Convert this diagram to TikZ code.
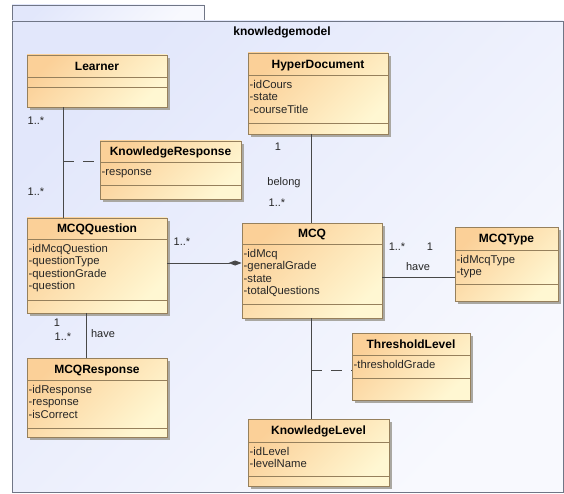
\documentclass[tikz,border=0pt]{standalone}
\definecolor{pkgblue}{RGB}{226, 231, 251}
\definecolor{pkgwhite}{RGB}{248, 249, 254}
\definecolor{pkgline}{RGB}{112, 118, 134}
\definecolor{classorange}{RGB}{251, 208, 152}
\definecolor{classyellow}{RGB}{255, 247, 210}
\definecolor{classline}{RGB}{150, 128, 92}
\definecolor{shadowgray}{RGB}{170, 168, 162}
\definecolor{assocgray}{RGB}{72, 72, 72}
\usepackage{fontspec}
\setmainfont{Liberation Sans}
\usepackage{tikz}
\usetikzlibrary{arrows.meta, calc}

\newcommand{\umlclass}[9]{%
  \fill[shadowgray] (#2+3,#3+3) rectangle (#4+3,#5+3);
  \node[classbox, minimum width={#4-#2}, minimum height={#5-#3}] (#1) at ({(#2+#4)/2},{(#3+#5)/2}) {};
  \draw[classsep] (#2,#6) -- (#4,#6) (#2,#7) -- (#4,#7);
  \node[classtitle] (#1-title) at ({(#2+#4)/2},{(#3+#6)/2}) {#8};
  \node[classattr] (#1-attrs) at (#2+1.5,#6+4) {\strut#9};
}

\begin{document}
\begin{tikzpicture}[x=1pt, y=-1pt,
    pkgbox/.style={draw=pkgline, line width=0.9pt, top color=pkgblue, bottom color=pkgwhite, shading angle=45, inner sep=0pt},
    classbox/.style={draw=classline, line width=0.8pt, top color=classorange, bottom color=classyellow, shading angle=45, inner sep=0pt},
    classsep/.style={draw=classline, line width=0.8pt},
    classtitle/.style={font=\bfseries\fontsize{12}{14}\selectfont, inner sep=0pt, text height=8.5pt, text depth=0pt},
    classattr/.style={font=\fontsize{11.3}{12.6}\selectfont, text=black!85, align=left, anchor=north west, inner sep=0pt},
    assoc/.style={draw=assocgray, line width=0.8pt},
    assocdash/.style={assoc, dash pattern=on 11pt off 9pt},
    assoclabel/.style={font=\fontsize{11}{13}\selectfont, text=black!85, inner sep=0pt, text height=7.5pt, text depth=0pt}]
  \useasboundingbox (0,0) rectangle (564,494);

  % The package
  \node[pkgbox, minimum width=192, minimum height=16] (pkgtab) at (108,13) {};
  \node[pkgbox, minimum width=551, minimum height=471] (knowledgemodel) at (287.5,256.5) {};
  \node[font=\bfseries\fontsize{12}{14}\selectfont, inner sep=0pt] (pkgtitle) at (282,32) {knowledgemodel};

  % Classes
  \umlclass{learner}{27}{55}{167}{107}{77}{87}{Learner}{}
  \umlclass{hyperdocument}{248}{53}{388}{134}{75}{123}{HyperDocument}{-idCours\\-state\\-courseTitle}
  \umlclass{knowledgeresponse}{100}{141}{241}{199}{162}{185}{KnowledgeResponse}{-response}
  \umlclass{mcqquestion}{27}{218}{167}{313}{239}{300}{MCQQuestion}{-idMcqQuestion\\-questionType\\-questionGrade\\-question}
  \umlclass{mcq}{242}{223}{382}{318}{244}{304}{MCQ}{-idMcq\\-generalGrade\\-state\\-totalQuestions}
  \umlclass{mcqtype}{455}{227}{558}{301}{250}{284}{MCQType}{-idMcqType\\-type}
  \umlclass{mcqresponse}{27}{358}{167}{437}{380}{428}{MCQResponse}{-idResponse\\-response\\-isCorrect}
  \umlclass{thresholdlevel}{352}{333}{470}{400}{355}{378}{ThresholdLevel}{-thresholdGrade}
  \umlclass{knowledgelevel}{248}{419}{389}{486}{442}{476}{KnowledgeLevel}{-idLevel\\-levelName}

  % Learner -- MCQQuestion, with KnowledgeResponse
  \coordinate (krlink) at (63,161);
  \draw[assoc] (learner.south -| krlink) -- (mcqquestion.north -| krlink);
  \draw[assocdash] (krlink) -- (knowledgeresponse.west |- krlink);
  \node[assoclabel] (learnermult) at (36,121) {1..*};
  \node[assoclabel] (questionmult) at (36,192) {1..*};

  % HyperDocument -- MCQ
  \coordinate (belonglink) at (311,0);
  \draw[assoc] (hyperdocument.south -| belonglink) -- (mcq.north -| belonglink);
  \node[assoclabel] (hypermult) at (278,147) {1};
  \node[assoclabel] (belonglabel) at (284,182) {belong};
  \node[assoclabel] (mcqmult) at (277,203) {1..*};

  % MCQQuestion -- MCQ
  \coordinate (partlink) at (0,263);
  \draw[assoc, -{Diamond[length=13pt, width=5pt]}] (mcqquestion.east |- partlink) -- (mcq.west |- partlink);
  \node[assoclabel] (partmult) at (182,242) {1..*};

  % MCQ -- MCQType
  \coordinate (typelink) at (0,277);
  \draw[assoc] (mcq.east |- typelink) -- (mcqtype.west |- typelink);
  \node[assoclabel] (typemcqmult) at (397,247) {1..*};
  \node[assoclabel] (typemult) at (430,247) {1};
  \node[assoclabel] (typehave) at (418,267) {have};

  % MCQQuestion -- MCQResponse
  \coordinate (responselink) at (86,0);
  \draw[assoc] (mcqquestion.south -| responselink) -- (mcqresponse.north -| responselink);
  \node[assoclabel] (respquestionmult) at (57,323) {1};
  \node[assoclabel] (respmult) at (63,337) {1..*};
  \node[assoclabel] (resphave) at (103,334) {have};

  % MCQ -- KnowledgeLevel, with ThresholdLevel
  \coordinate (tllink) at (311,370);
  \draw[assoc] (mcq.south -| tllink) -- (knowledgelevel.north -| tllink);
  \draw[assocdash] (tllink) -- (thresholdlevel.west |- tllink);
\end{tikzpicture}
\end{document}
